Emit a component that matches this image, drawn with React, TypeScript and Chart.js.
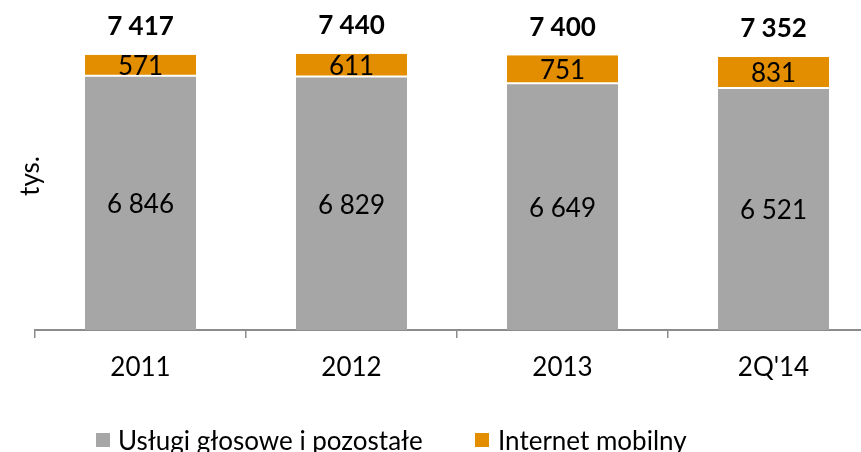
import React, { useEffect, useRef } from "react";
import { Chart, registerables } from "chart.js";

Chart.register(...registerables);

const categories = ["2011", "2012", "2013", "2Q'14"];
const voiceValues = [6846, 6829, 6649, 6521];
const internetValues = [571, 611, 751, 831];
const seriesNames = ["Usługi głosowe i pozostałe", "Internet mobilny"];
const yTitle = "tys.";

const GRAY = "#A6A6A6";
const ORANGE = "#E38D00";
const FONT = "Lato, 'Open Sans', sans-serif";

function fmt(v: number): string {
  return String(v).replace(/\B(?=(\d{3})+(?!\d))/g, " ");
}

const labelPlugin = {
  id: "customLabels",
  afterDatasetsDraw(chart: any) {
    const ctx = chart.ctx as CanvasRenderingContext2D;
    ctx.save();
    ctx.fillStyle = "#000";
    ctx.textAlign = "center";
    ctx.textBaseline = "middle";
    const m0 = chart.getDatasetMeta(0).data;
    const m1 = chart.getDatasetMeta(1).data;
    ctx.font = `26px ${FONT}`;
    m0.forEach((bar: any, i: number) => {
      const cy = (bar.y + bar.base) / 2;
      ctx.fillText(fmt(voiceValues[i]), bar.x, cy + 2);
    });
    m1.forEach((bar: any, i: number) => {
      const cy = (bar.y + bar.base) / 2;
      ctx.fillText(fmt(internetValues[i]), bar.x, cy + 1);
    });
    ctx.font = `bold 26px ${FONT}`;
    m1.forEach((bar: any, i: number) => {
      const total = voiceValues[i] + internetValues[i];
      ctx.fillText(fmt(total), bar.x, bar.y - 28);
    });
    // y title
    ctx.font = `26px ${FONT}`;
    ctx.save();
    ctx.translate(31, 176);
    ctx.rotate(-Math.PI / 2);
    ctx.fillText(yTitle, 0, 0);
    ctx.restore();
    // legend
    ctx.textAlign = "left";
    ctx.font = `26px ${FONT}`;
    ctx.fillStyle = GRAY;
    ctx.fillRect(96, 433, 14, 14);
    ctx.fillStyle = "#000";
    ctx.fillText(seriesNames[0], 118, 442);
    ctx.fillStyle = ORANGE;
    ctx.fillRect(475, 433, 14, 14);
    ctx.fillStyle = "#000";
    ctx.fillText(seriesNames[1], 498, 442);
    ctx.restore();
  },
};

export default function App() {
  const ref = useRef<HTMLCanvasElement | null>(null);
  useEffect(() => {
    if (!ref.current) return;
    const chart = new Chart(ref.current, {
      type: "bar",
      data: {
        labels: categories,
        datasets: [
          {
            label: seriesNames[0],
            data: voiceValues,
            backgroundColor: GRAY,
            borderColor: "#FFFFFF",
            borderWidth: { top: 1, bottom: 0, left: 0, right: 0 },
            borderSkipped: false,
          },
          {
            label: seriesNames[1],
            data: internetValues,
            backgroundColor: ORANGE,
            borderColor: "#FFFFFF",
            borderWidth: { top: 0, bottom: 1, left: 0, right: 0 },
            borderSkipped: false,
          },
        ],
      },
      options: {
        responsive: false,
        animation: false,
        layout: { padding: { left: 35, right: 11, top: 33, bottom: 0 } },
        plugins: {
          legend: { display: false },
          tooltip: { enabled: false },
        },
        datasets: {
          bar: { barPercentage: 1, categoryPercentage: 111 / 211 },
        },
        scales: {
          x: {
            stacked: true,
            grid: {
              offset: true,
              drawOnChartArea: false,
              drawTicks: true,
              tickLength: 8,
              color: "#8C8C8C",
              lineWidth: 1.5,
            },
            border: { display: true, color: "#8C8C8C", width: 2 },
            ticks: {
              color: "#000",
              font: { family: FONT, size: 26 },
              padding: 14,
            },
            afterFit(scale: any) {
              scale.height = 122;
            },
          },
          y: {
            stacked: true,
            display: false,
            min: 0,
            max: 8000,
          },
        },
      },
      plugins: [labelPlugin],
    } as any);
    return () => chart.destroy();
  }, []);
  return (
    <div
      style={{
        position: "fixed",
        left: 0,
        top: 0,
        width: 861,
        height: 452,
        overflow: "hidden",
        background: "#fff",
      }}
    >
      <canvas ref={ref} width={890} height={452} style={{ width: 890, height: 452, display: "block" }} />
    </div>
  );
}
